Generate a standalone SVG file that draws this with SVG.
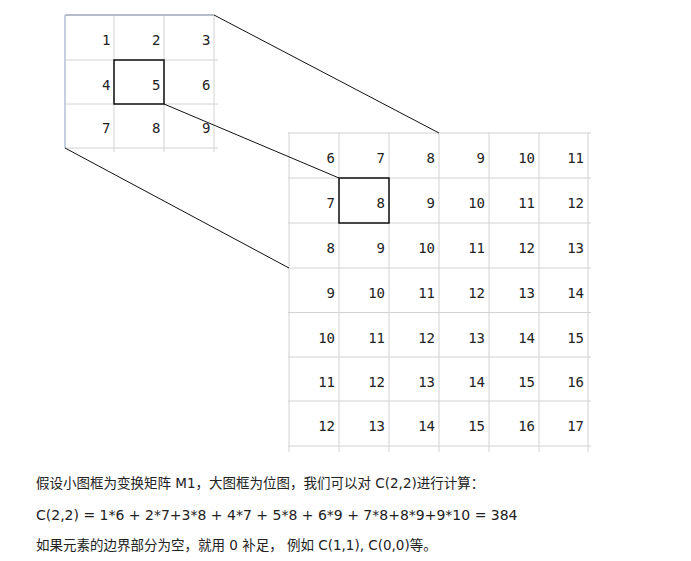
<svg xmlns="http://www.w3.org/2000/svg" width="691" height="561" viewBox="0 0 691 561">
<style>
.g{stroke:#d2d2d2;stroke-width:1;fill:none}
.hl{stroke:#111;stroke-width:1.5;fill:none}
.n{font-family:"DejaVu Sans Mono","Liberation Mono",monospace;font-size:14px;fill:#222;text-anchor:end}
.t{font-family:"DejaVu Sans","Noto Sans CJK SC",sans-serif;font-size:13.5px;fill:#222}
.c{stroke:#111;stroke-width:1;fill:none}
</style>
<rect width="691" height="561" fill="#fff"/>
<g id="small-grid">
<path class="g" d="M114,15V152M164,15V152M214,15V152M65,60H218M65,104H218M65,148H218"/>
<path d="M65,15H214" stroke="#b3bcc8" stroke-width="2" fill="none"/>
<path d="M65,15V148" stroke="#c4cfe0" stroke-width="2" fill="none"/>
<rect class="hl" x="114" y="60" width="50" height="44"/>
<text class="n" x="110.5" y="45">1</text><text class="n" x="160.5" y="45">2</text><text class="n" x="210.5" y="45">3</text>
<text class="n" x="110.5" y="90">4</text><text class="n" x="160.5" y="90">5</text><text class="n" x="210.5" y="90">6</text>
<text class="n" x="110.5" y="133">7</text><text class="n" x="160.5" y="133">8</text><text class="n" x="210.5" y="133">9</text>
</g>
<g id="big-grid">
<path class="g" d="M289,132V452M339,132V452M389,132V452M439,132V452M489,132V452M539,132V452M588,132V452M288,133H591M288,178H591M288,223H591M288,268H591M288,312.5H591M288,357H591M288,401H591M288,446H591"/>
<rect class="hl" x="339" y="178" width="50" height="45"/>
<g class="n">
<text x="335" y="163">6</text><text x="385" y="163">7</text><text x="435" y="163">8</text><text x="485" y="163">9</text><text x="535" y="163">10</text><text x="584" y="163">11</text>
<text x="335" y="208">7</text><text x="385" y="208">8</text><text x="435" y="208">9</text><text x="485" y="208">10</text><text x="535" y="208">11</text><text x="584" y="208">12</text>
<text x="335" y="253">8</text><text x="385" y="253">9</text><text x="435" y="253">10</text><text x="485" y="253">11</text><text x="535" y="253">12</text><text x="584" y="253">13</text>
<text x="335" y="298">9</text><text x="385" y="298">10</text><text x="435" y="298">11</text><text x="485" y="298">12</text><text x="535" y="298">13</text><text x="584" y="298">14</text>
<text x="335" y="342.5">10</text><text x="385" y="342.5">11</text><text x="435" y="342.5">12</text><text x="485" y="342.5">13</text><text x="535" y="342.5">14</text><text x="584" y="342.5">15</text>
<text x="335" y="387">11</text><text x="385" y="387">12</text><text x="435" y="387">13</text><text x="485" y="387">14</text><text x="535" y="387">15</text><text x="584" y="387">16</text>
<text x="335" y="431">12</text><text x="385" y="431">13</text><text x="435" y="431">14</text><text x="485" y="431">15</text><text x="535" y="431">16</text><text x="584" y="431">17</text>
</g>
</g>
<g id="connectors">
<line class="c" x1="214" y1="15" x2="439" y2="133"/>
<line class="c" x1="164" y1="104" x2="339" y2="178"/>
<line class="c" x1="65" y1="148" x2="289" y2="268"/>
</g>
<g id="caption">
<text class="t" x="36" y="488">假设小图框为变换矩阵 M1，大图框为位图，我们可以对 C(2,2)进行计算：</text>
<text class="t" x="36" y="520" style="font-size:14px">C(2,2) = 1*6 + 2*7+3*8 + 4*7 + 5*8 + 6*9 + 7*8+8*9+9*10 = 384</text>
<text class="t" x="36" y="550">如果元素的边界部分为空，就用 0 补足， 例如 C(1,1), C(0,0)等。</text>
</g>
</svg>
